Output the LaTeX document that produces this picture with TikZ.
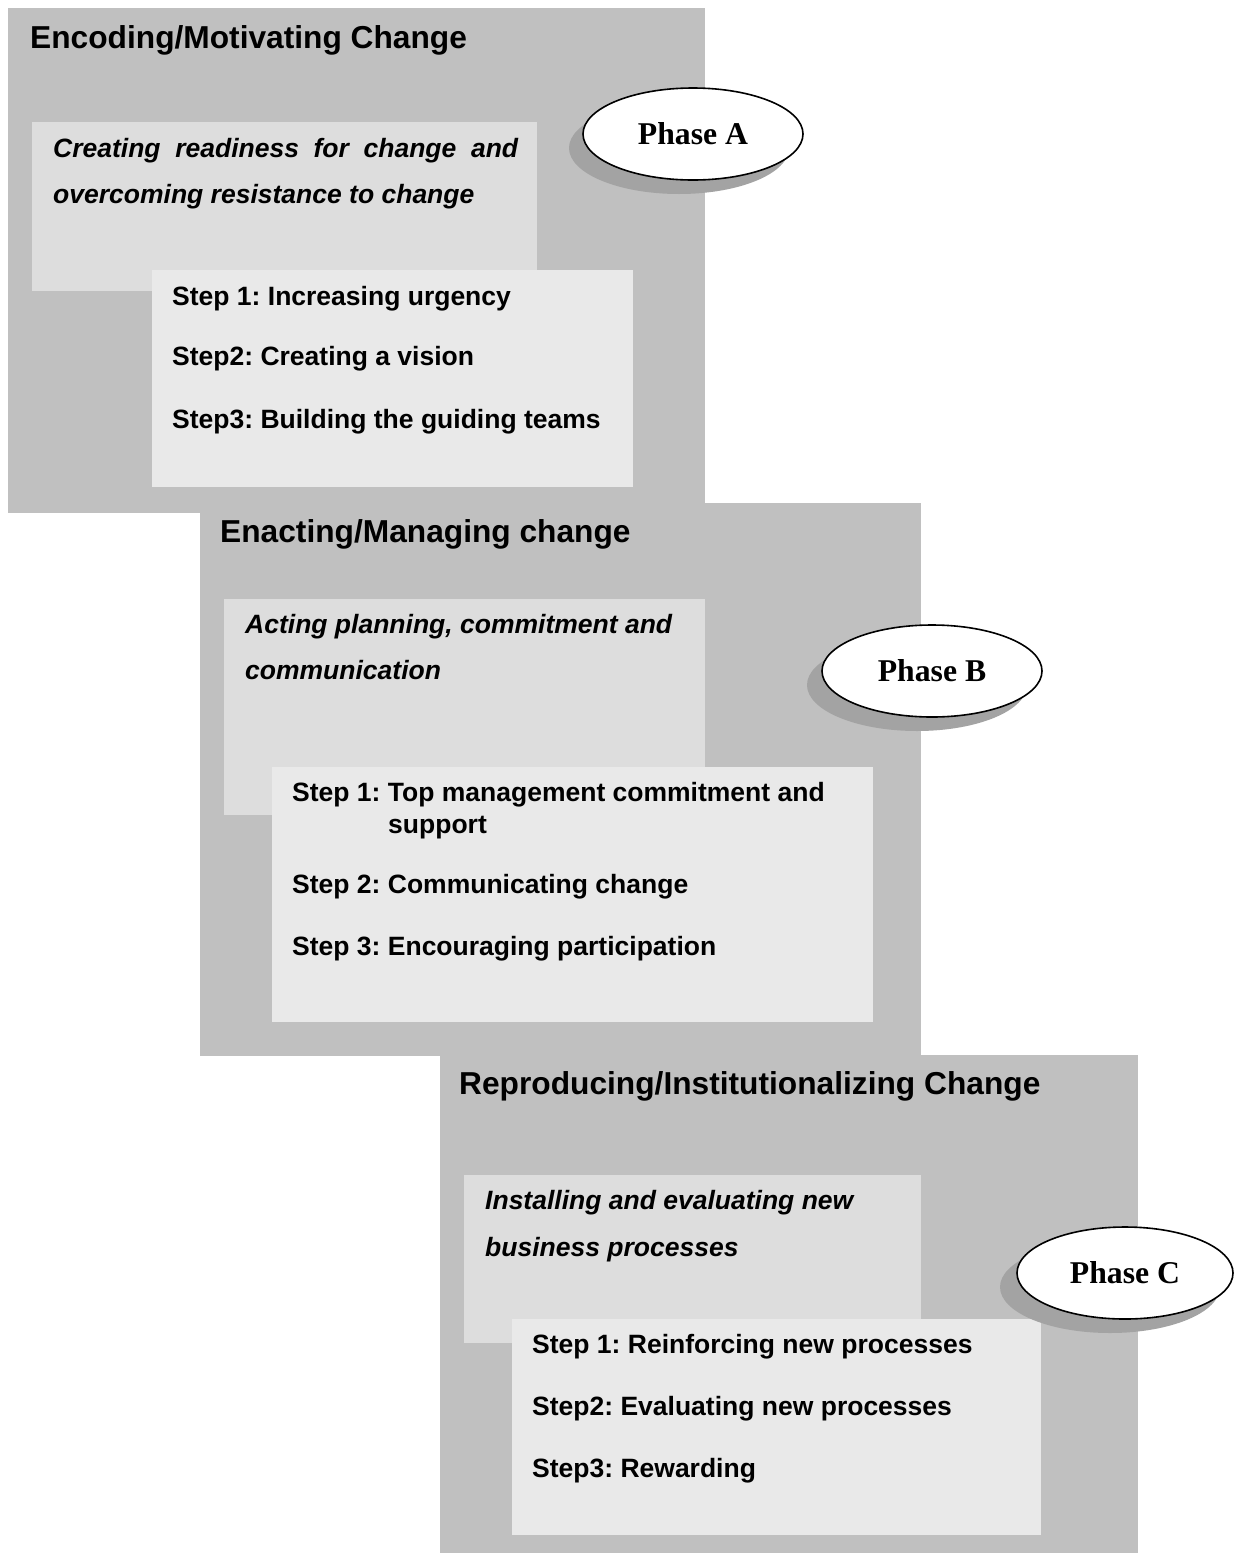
\documentclass[tikz,border=0pt]{standalone}
\usepackage{fontspec}
\setmainfont{Liberation Sans}
\newfontfamily\phasefont{Liberation Serif}
\usetikzlibrary{shapes.geometric}
\definecolor{bigbox}{RGB}{192,192,192}
\definecolor{italbox}{RGB}{221,221,221}
\definecolor{stepbox}{RGB}{233,233,233}
\definecolor{shadowc}{RGB}{163,163,163}
\frenchspacing
\begin{document}
\begin{tikzpicture}[x=1pt,y=-1pt,
  head/.style={anchor=base west, inner sep=0pt, font=\fontsize{31.7}{38}\selectfont\bfseries},
  body/.style={anchor=base west, inner sep=0pt, font=\fontsize{26.5}{32}\selectfont\bfseries},
  ital/.style={anchor=base west, inner sep=0pt, font=\fontsize{26.5}{32}\selectfont\bfseries\itshape},
  phase/.style={ellipse, draw, line width=1.6pt, fill=white, inner sep=0pt, minimum width=220pt, minimum height=92pt, font=\phasefont\fontsize{31.7}{38}\selectfont\bfseries},
  shad/.style={ellipse, fill=shadowc, inner sep=0pt, minimum width=220pt, minimum height=92pt}]
\useasboundingbox (0,0) rectangle (1235,1553);
% big boxes
\fill[bigbox] (8,8) rectangle (705,513);
\fill[bigbox] (200,503) rectangle (921,1056);
\fill[bigbox] (440,1055) rectangle (1138,1553);
% phase A
\fill[italbox] (32,122) rectangle (537,291);
\fill[stepbox] (152,270) rectangle (633,487);
\node[head] (ha) at (30,48) {Encoding/Motivating Change};
\node[ital] (ia1) at (53,157) {\makebox[465pt][s]{Creating readiness for change and}};
\node[ital] (ia2) at (53,203) {overcoming resistance to change};
\node[body] (sa1) at (172,305) {Step 1: Increasing urgency};
\node[body] (sa2) at (172,365) {Step2: Creating a vision};
\node[body] (sa3) at (172,428) {Step3: Building the guiding teams};
\node[shad] (pas) at (679,148) {};
\node[phase] (pa) at (693,134) {Phase A};
% phase B
\fill[italbox] (224,599) rectangle (705,815);
\fill[stepbox] (272,767) rectangle (873,1022);
\node[head] (hb) at (220,542) {Enacting/Managing change};
\node[ital] (ib1) at (245,633) {Acting planning, commitment and};
\node[ital] (ib2) at (245,679) {communication};
\node[body] (sb1) at (292,801) {Step 1: Top management commitment and};
\node[body] (sb1b) at (388,833) {support};
\node[body] (sb2) at (292,893) {Step 2: Communicating change};
\node[body] (sb3) at (292,955) {Step 3: Encouraging participation};
\node[shad] (pbs) at (917,685) {};
\node[phase] (pb) at (932,671) {Phase B};
% phase C
\fill[italbox] (464,1175) rectangle (921,1343);
\fill[stepbox] (512,1319) rectangle (1041,1535);
\node[head] (hc) at (459,1094) {Reproducing/Institutionalizing Change};
\node[ital] (ic1) at (485,1209) {Installing and evaluating new};
\node[ital] (ic2) at (485,1256) {business processes};
\node[body] (sc1) at (532,1353) {Step 1: Reinforcing new processes};
\node[body] (sc2) at (532,1415) {Step2: Evaluating new processes};
\node[body] (sc3) at (532,1477) {Step3: Rewarding};
\node[shad] (pcs) at (1110,1287) {};
\node[phase, minimum width=216pt] (pc) at (1125,1273) {Phase C};
\end{tikzpicture}
\end{document}
